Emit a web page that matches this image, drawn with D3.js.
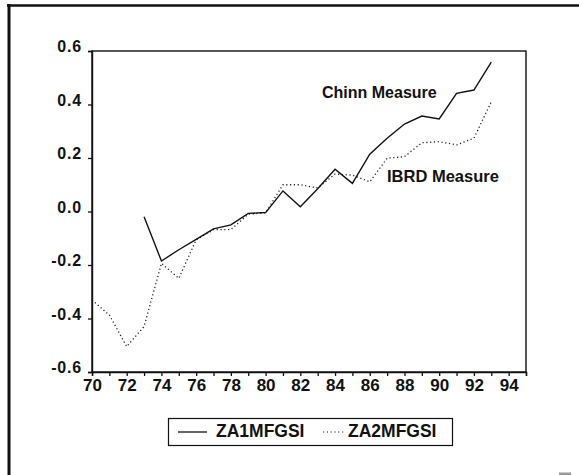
<!DOCTYPE html>
<html><head><meta charset="utf-8">
<script src="https://cdn.jsdelivr.net/npm/d3@7"></script>
<style>
html,body{margin:0;padding:0;background:#fff;}
svg{display:block;font-family:"Liberation Sans",Arial,sans-serif;}
</style></head>
<body>
<svg id="chart" width="579" height="475"></svg>
<script>
const years = [70,71,72,73,74,75,76,77,78,79,80,81,82,83,84,85,86,87,88,89,90,91,92,93];
const za1mfgsi = [null,null,null,-0.02,-0.185,-0.143,-0.104,-0.065,-0.05,-0.007,-0.004,0.077,0.018,0.085,0.158,0.105,0.214,0.274,0.327,0.357,0.346,0.442,0.454,0.558];
const za2mfgsi = [-0.331,-0.387,-0.505,-0.43,-0.194,-0.25,-0.106,-0.068,-0.068,-0.01,-0.005,0.1,0.1,0.088,0.14,0.136,0.111,0.199,0.205,0.257,0.261,0.249,0.274,0.41];
const xTickValues = d3.range(70,96,1);
const xLabelValues = [70,72,74,76,78,80,82,84,86,88,90,92,94];
const yTickValues = [-0.6,-0.4,-0.2,0.0,0.2,0.4,0.6];
const seriesNames = ["ZA1MFGSI","ZA2MFGSI"];
const annotations = ["Chinn Measure","IBRD Measure"];

const svg = d3.select("#chart");
const L=92, R=526, T=51, B=372;
const x = d3.scaleLinear().domain([70,95]).range([L,R]);
const y = d3.scaleLinear().domain([-0.6,0.6]).range([B,T]);

// outer frame (top and left only visible)
svg.append("line").attr("x1",7).attr("x2",579).attr("y1",5.5).attr("y2",5.5).attr("stroke","#111").attr("stroke-width",2.5);
svg.append("line").attr("x1",9).attr("x2",9).attr("y1",4).attr("y2",475).attr("stroke","#111").attr("stroke-width",3);
svg.append("rect").attr("x",559).attr("y",472.5).attr("width",12).attr("height",2.5).attr("fill","#999");

// plot frame
svg.append("rect").attr("x",L).attr("y",T).attr("width",R-L).attr("height",B-T)
  .attr("fill","none").attr("stroke","#111").attr("stroke-width",1.4);

// x axis
const xAxis = d3.axisBottom(x).tickValues(xTickValues).tickSize(4).tickPadding(3)
  .tickFormat(d => xLabelValues.includes(d) ? String(d) : "");
const gx = svg.append("g").attr("transform",`translate(0,${B})`).call(xAxis);
gx.select(".domain").attr("stroke","#111").attr("stroke-width",1.4);
gx.selectAll(".tick line").attr("stroke","#111").attr("stroke-width",1.3);
gx.selectAll(".tick text").attr("fill","#111").attr("font-size","17px").attr("font-weight","bold")
  .attr("font-family","'Liberation Sans',Arial,sans-serif").attr("dy","0.72em");

// y axis
const yAxis = d3.axisLeft(y).tickValues(yTickValues).tickSize(4).tickPadding(6)
  .tickFormat(d => d.toFixed(1));
const gy = svg.append("g").attr("transform",`translate(${L},0)`).call(yAxis);
gy.select(".domain").attr("stroke","#111").attr("stroke-width",1.4);
gy.selectAll(".tick line").attr("stroke","#111").attr("stroke-width",1.3);
gy.selectAll(".tick text").attr("fill","#111").attr("font-size","16px").attr("font-weight","bold")
  .attr("font-family","'Liberation Sans',Arial,sans-serif").attr("letter-spacing","0.8px").attr("dy","0.05em");

// lines
const lineGen = d3.line().defined(d => d[1] !== null).x(d => x(d[0])).y(d => y(d[1]));
svg.append("path").datum(years.map((yr,i)=>[yr,za2mfgsi[i]]))
  .attr("d",lineGen).attr("fill","none").attr("stroke","#222").attr("stroke-width",1.3)
  .attr("stroke-dasharray","1.2,2.6");
svg.append("path").datum(years.map((yr,i)=>[yr,za1mfgsi[i]]))
  .attr("d",lineGen).attr("fill","none").attr("stroke","#111").attr("stroke-width",1.4);

// annotations
svg.append("text").attr("x",322).attr("y",97.5).attr("font-size","16px").attr("font-weight","bold")
  .attr("fill","#111").text(annotations[0]);
svg.append("text").attr("x",387).attr("y",181.5).attr("font-size","16.5px").attr("font-weight","bold")
  .attr("fill","#111").text(annotations[1]);

// legend
const lg = svg.append("g");
lg.append("rect").attr("x",168.5).attr("y",418.5).attr("width",284).attr("height",27)
  .attr("fill","none").attr("stroke","#111").attr("stroke-width",1.2);
lg.append("line").attr("x1",178).attr("x2",207).attr("y1",432).attr("y2",432).attr("stroke","#111").attr("stroke-width",1.3);
lg.append("text").attr("x",216).attr("y",436.5).attr("font-size","17.5px").attr("font-weight","bold").attr("fill","#111").text(seriesNames[0]);
lg.append("line").attr("x1",323).attr("x2",345).attr("y1",432).attr("y2",432).attr("stroke","#222").attr("stroke-width",1.2).attr("stroke-dasharray","1.2,2.6");
lg.append("text").attr("x",348).attr("y",436.5).attr("font-size","17.5px").attr("font-weight","bold").attr("fill","#111").text(seriesNames[1]);
</script>
</body></html>
